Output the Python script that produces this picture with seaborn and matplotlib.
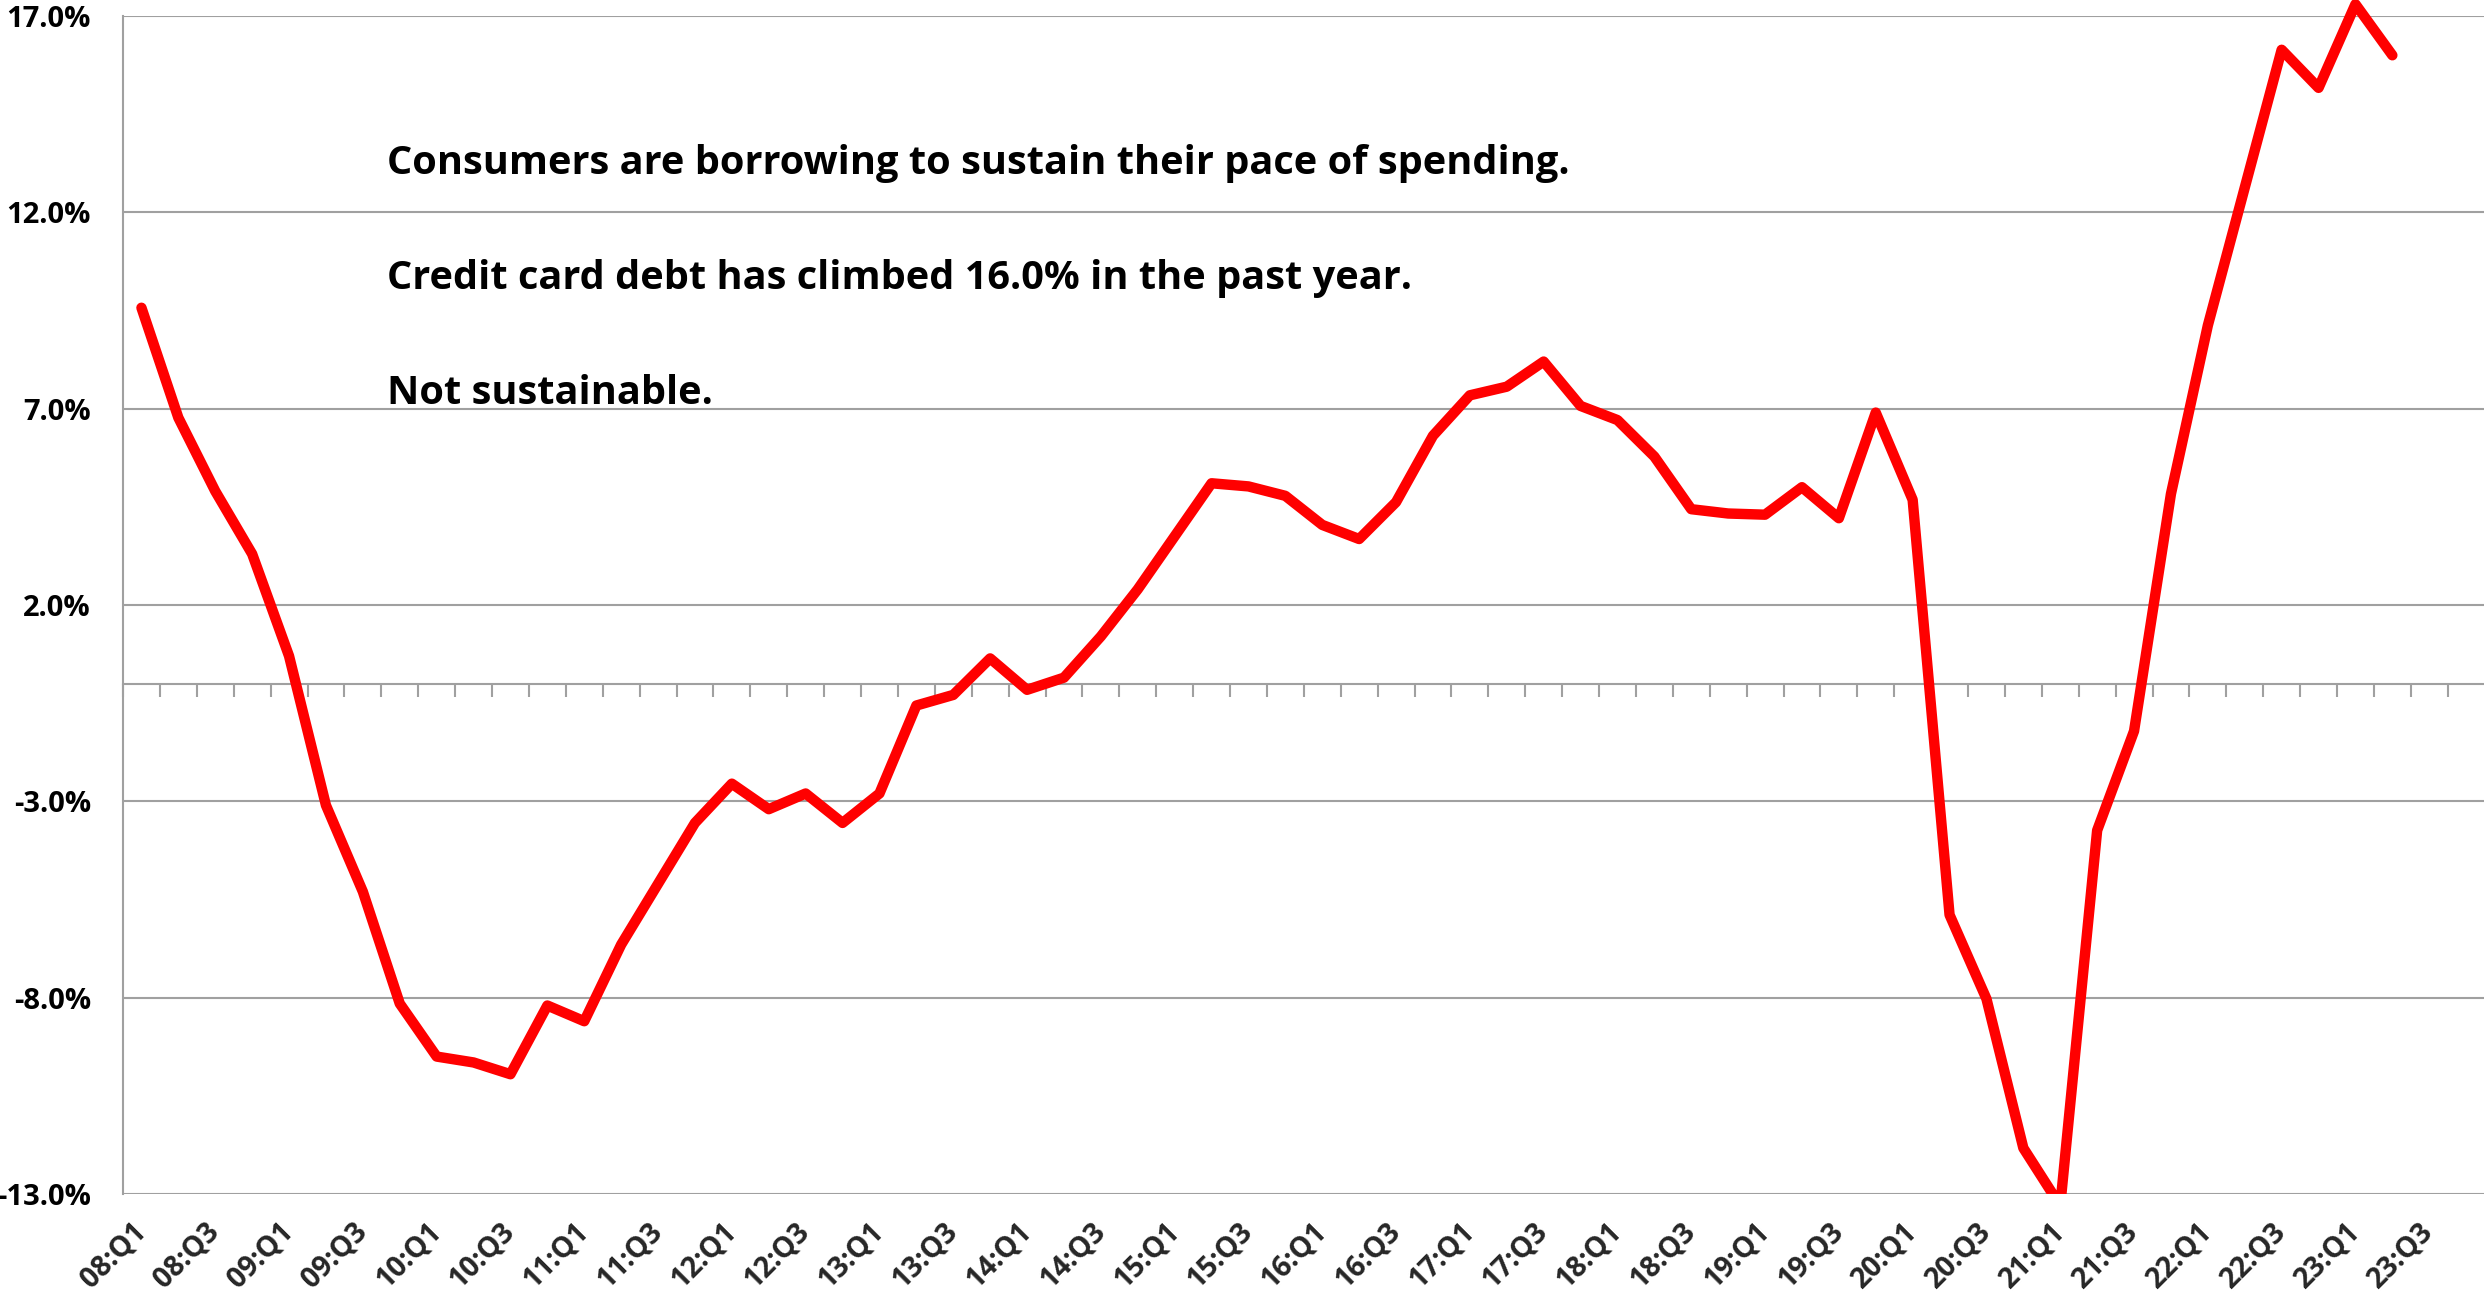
import numpy as np
import pandas as pd
import matplotlib
matplotlib.use("Agg")
import matplotlib.pyplot as plt
from matplotlib.patches import Rectangle
from matplotlib.ticker import FixedLocator, FuncFormatter
import seaborn as sns

# Year-over-year growth of revolving (credit card) consumer credit, %
quarters = [f"{y:02d}:Q{q}" for y in range(8, 24) for q in range(1, 5)][:63]
growth = [
    9.57, 6.77, 4.9, 3.3, 0.7, -3.1, -5.3, -8.15, -9.5, -9.65,
    -9.95, -8.2, -8.6, -6.65, -5.1, -3.55, -2.55, -3.2, -2.8, -3.55,
    -2.8, -0.56, -0.29, 0.64, -0.16, 0.15, 1.2, 2.4, 3.75, 5.1,
    5.02, 4.78, 4.04, 3.68, 4.62, 6.31, 7.34, 7.56, 8.2, 7.07,
    6.71, 5.78, 4.44, 4.33, 4.30, 5.0, 4.21, 6.9, 4.68, -5.89,
    -8.03, -11.83, -13.3, -3.74, -1.21, 4.83, 9.12, 12.63, 16.14, 15.17,
    17.3, 16.0,
]
y_ticks = [-13.0, -8.0, -3.0, 2.0, 7.0, 12.0, 17.0]
notes = [
    "Consumers are borrowing to sustain their pace of spending.",
    "Credit card debt has climbed 16.0% in the past year.",
    "Not sustainable.",
]
note_y = [12.98, 10.05, 7.12]

df = pd.DataFrame({"pos": np.arange(len(growth)), "growth": growth})

sns.set_style("white")
plt.rcParams["font.family"] = ["Open Sans", "DejaVu Sans"]
plt.rcParams["font.weight"] = "bold"

grid_color = "#A0A0A0"
fig = plt.figure(figsize=(24.84, 12.96), dpi=100)
ax = fig.add_axes([123 / 2484, 1 - 1194 / 1296, 1 - 123 / 2484, (1194 - 16) / 1296])

sns.lineplot(data=df, x="pos", y="growth", color="#FF0000", linewidth=7.5, ax=ax)
line = ax.lines[-1]
line.set_solid_capstyle("round")
line.set_solid_joinstyle("round")
# let the series peak poke slightly above the top gridline, clip at the floor
clip = Rectangle((0, 0), 1, 1.05, transform=ax.transAxes, facecolor="none")
line.set_clip_path(clip)

ncat = len(quarters)
ax.set_xlim(-0.5, -0.5 + (2484 - 123) / 36.9)
ax.set_ylim(y_ticks[0], y_ticks[-1])

# y axis
ax.yaxis.set_major_locator(FixedLocator(y_ticks))
ax.yaxis.set_major_formatter(FuncFormatter(lambda v, p: f"{v:.1f}%"))
ax.grid(axis="y", color=grid_color, linewidth=1.5)
ax.grid(axis="x", visible=False)
ax.tick_params(axis="y", direction="out", length=9, width=1.5, color=grid_color,
               pad=14, labelsize=21, labelcolor="black")
for lbl in ax.get_yticklabels():
    lbl.set_fontweight("bold")

# category labels along the bottom
ax.set_xticks(np.arange(0, ncat, 2))
ax.set_xticklabels(quarters[::2], rotation=45, ha="right", va="center",
                   rotation_mode="anchor", fontsize=20.5, fontweight="bold")
ax.tick_params(axis="x", length=0, pad=24)
ax.set_xlabel("")
ax.set_ylabel("")

for side in ["top", "right", "bottom"]:
    ax.spines[side].set_visible(False)
ax.spines["left"].set_color(grid_color)
ax.spines["left"].set_linewidth(1.5)

# category axis crossing at zero with tick marks between quarters
zero_frac = (0 - y_ticks[0]) / (y_ticks[-1] - y_ticks[0])
sec = ax.secondary_xaxis(zero_frac)
sec.set_xticks(np.arange(-0.5, ncat + 0.5, 1.0))
sec.set_xticklabels([])
sec.tick_params(direction="out", length=9, width=1.5, color=grid_color)
sec.spines["bottom"].set_color(grid_color)
sec.spines["bottom"].set_linewidth(1.5)

for txt, yv in zip(notes, note_y):
    ax.text(0.1118, yv, txt, transform=ax.get_yaxis_transform(), fontsize=28.6,
            fontweight="bold", color="black", va="baseline", ha="left")

fig.savefig("out.png", dpi=100, facecolor="white")
